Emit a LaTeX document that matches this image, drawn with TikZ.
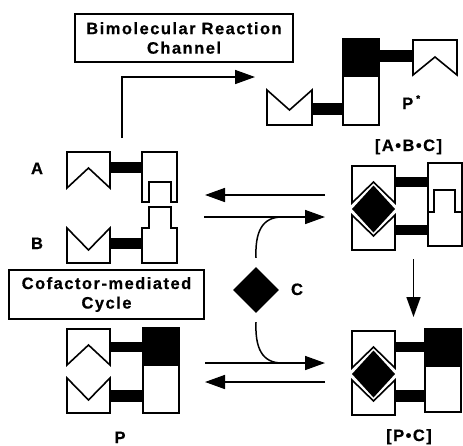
\documentclass[tikz,border=0pt]{standalone}
\usepackage{fontspec}
\usetikzlibrary{arrows.meta,shapes.geometric}
\newfontfamily\lab{Liberation Sans}[LetterSpace=9,FakeBold=0.6]
\tikzset{
  outl/.style={draw=black, fill=white, line width=1.6pt, line join=miter},
  blk/.style={draw=black, fill=black, line width=1.6pt},
  linker/.style={fill=black},
  dia/.style={fill=black},
  arr/.style={line width=1.6pt, -{Triangle[length=20pt,width=14pt]}},
  curv/.style={line width=1.5pt},
  lbl/.style={font=\lab\bfseries\fontsize{16.5}{20}\selectfont, inner sep=0pt},
  boxn/.style={draw=black, line width=1.6pt, inner sep=0pt, align=center,
    font=\lab\bfseries\fontsize{16.5}{19.5}\selectfont}
}
\begin{document}
\begin{tikzpicture}[x=1pt,y=-1pt]
\useasboundingbox (0,0) rectangle (463,445);
\fill[white] (0,0) rectangle (463,445);

% ---------- boxes ----------
\node[boxn, minimum width=218pt, minimum height=48pt] (bim) at (184,38) {Bimolecular\hspace{6pt}Reaction\\Channel};
\node[boxn, minimum width=195pt, minimum height=49pt] (cof) at (106.5,294.5) {Cofactor-mediated\\Cycle};

% ---------- molecule A ----------
\draw[outl] (67,152) -- (110,152) -- (110,188) -- (88.5,168) -- (67,188) -- cycle;
\fill[linker] (110,162) rectangle (142,173);
\draw[outl] (142,152) -- (177,152) -- (177,202) -- (171,202) -- (171,182) -- (149,182) -- (149,202) -- (142,202) -- cycle;

% ---------- molecule B ----------
\draw[outl] (67,228) -- (88.5,250) -- (110,228) -- (110,263) -- (67,263) -- cycle;
\fill[linker] (110,238) rectangle (142,249);
\draw[outl] (149,207) -- (171,207) -- (171,228) -- (177,228) -- (177,263) -- (142,263) -- (142,228) -- (149,228) -- cycle;

% ---------- product P ----------
\draw[outl] (67,329) -- (110,329) -- (110,365) -- (88.5,345) -- (67,365) -- cycle;
\draw[outl] (67,378) -- (88.5,400) -- (110,378) -- (110,413) -- (67,413) -- cycle;
\fill[linker] (110,342) rectangle (143,352);
\fill[linker] (110,390) rectangle (143,402);
\draw[blk] (143,328) rectangle (179,365);
\draw[outl] (143,365) rectangle (179,413);

% ---------- product P* ----------
\draw[outl] (267,90) -- (289.5,110) -- (312,90) -- (312,125) -- (267,125) -- cycle;
\fill[linker] (312,103) rectangle (343,115);
\draw[blk] (343,39) rectangle (379,76);
\draw[outl] (343,76) rectangle (379,125);
\fill[linker] (379,50) rectangle (413,62);
\draw[outl] (413,40) -- (457,40) -- (457,75) -- (435,57) -- (413,75) -- cycle;

% ---------- complex [A.B.C] ----------
\draw[outl] (352,166) -- (395,166) -- (395,203) -- (373.5,182) -- (352,203) -- cycle;
\draw[outl] (352,215) -- (373.5,236) -- (395,215) -- (395,250) -- (352,250) -- cycle;
\fill[dia] (352,209) -- (373.5,185.5) -- (395,209) -- (373.5,232.5) -- cycle;
\fill[linker] (395,177) rectangle (428,187);
\fill[linker] (395,225) rectangle (428,235);
\draw[outl] (428,163) rectangle (462,246);
\draw[line width=1.6pt] (428,212) -- (434,212) -- (434,190) -- (455,190) -- (455,212) -- (462,212);

% ---------- complex [P.C] ----------
\draw[outl] (352,331) -- (395,331) -- (395,368) -- (373.5,347) -- (352,368) -- cycle;
\draw[outl] (352,380) -- (373.5,401) -- (395,380) -- (395,415) -- (352,415) -- cycle;
\fill[dia] (352,374) -- (373.5,350.5) -- (395,374) -- (373.5,397.5) -- cycle;
\fill[linker] (395,342) rectangle (425,352);
\fill[linker] (395,390) rectangle (425,402);
\draw[blk] (425,329) rectangle (461,366);
\draw[outl] (425,366) rectangle (461,412);

% ---------- cofactor C ----------
\node[diamond, fill=black, minimum width=46pt, minimum height=46pt, inner sep=0pt] (cdia) at (256,290) {};

% ---------- labels ----------
\node[lbl, anchor=base] (labA) at (37,174) {A};
\node[lbl, anchor=base] (labB) at (37,249) {B};
\node[lbl, anchor=base] (labC) at (297,295) {C};
\node[lbl, anchor=base] (labP) at (120,443) {P};
\node[lbl, anchor=base] (labPC) at (409,441) {[P•C]};
\node[lbl, anchor=base] (labABC) at (408.5,151) {[A•B•C]};
\node[lbl, anchor=base west] (labPs) at (402,109) {P\hspace{3pt}\raisebox{7pt}{\fontsize{10}{10}\selectfont *}};

% ---------- connector coordinates ----------
\coordinate (bs) at (122,138);
\coordinate (be) at (255,77);
\coordinate (t1s) at (325,195);
\coordinate (t1e) at (205,195);
\coordinate (t2s) at (204,217);
\coordinate (t2e) at (325,217);
\coordinate (b1s) at (205,363);
\coordinate (b1e) at (325,363);
\coordinate (b2s) at (325,382);
\coordinate (b2e) at (205,382);
\coordinate (ds) at (413.5,259);
\coordinate (de) at (413.5,317);
\coordinate (cu1) at (282,217);
\coordinate (cu2) at (282,363);

% ---------- arrows ----------
\draw[arr] (bs) |- (be);
\draw[arr] (t1s) -- (t1e);
\draw[arr] (t2s) -- (t2e);
\draw[arr] (b1s) -- (b1e);
\draw[arr] (b2s) -- (b2e);
\draw[arr] (ds) -- (de);
\draw[curv] ([yshift=9pt]cdia.north) .. controls (255,232) and (262,217) .. (cu1);
\draw[curv] ([yshift=-9pt]cdia.south) .. controls (255,348) and (262,363) .. (cu2);
\end{tikzpicture}
\end{document}
